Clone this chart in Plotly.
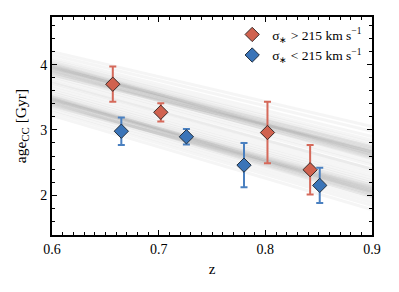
import plotly.graph_objects as go

# Data: high-dispersion sample
z_high = [0.657, 0.702, 0.802, 0.842]
age_high = [3.70, 3.27, 2.96, 2.39]
err_high = [0.27, 0.14, 0.47, 0.38]

# Data: low-dispersion sample
z_low = [0.665, 0.726, 0.780, 0.851]
age_low = [2.98, 2.895, 2.46, 2.15]
err_low = [0.21, 0.12, 0.34, 0.27]

# Model posterior lines (values at z=0.6 and z=0.9)
line_z = [0.6, 0.9]
upper_start = [3.74, 3.78, 3.82, 3.85, 3.87, 3.89, 3.90, 3.92, 3.93, 3.94, 3.95, 3.96,
               3.97, 3.98, 3.99, 4.00, 4.02, 4.04, 4.06, 4.10, 4.15, 4.20, 3.91, 3.95,
               3.88, 4.01, 3.84, 3.97]
upper_end = [2.40, 2.46, 2.50, 2.55, 2.60, 2.58, 2.62, 2.63, 2.66, 2.64, 2.68, 2.66,
             2.70, 2.67, 2.72, 2.74, 2.76, 2.80, 2.84, 2.90, 2.98, 3.05, 2.56, 2.74,
             2.66, 2.62, 2.70, 2.60]
lower_start = [3.22, 3.27, 3.31, 3.35, 3.38, 3.40, 3.41, 3.43, 3.44, 3.45, 3.46, 3.47,
               3.48, 3.49, 3.50, 3.52, 3.54, 3.57, 3.60, 3.64, 3.68, 3.72, 3.42, 3.46,
               3.39, 3.51, 3.36, 3.48]
lower_end = [1.78, 1.84, 1.89, 1.94, 1.98, 2.00, 2.02, 2.04, 2.06, 2.07, 2.09, 2.08,
             2.11, 2.10, 2.13, 2.16, 2.19, 2.22, 2.26, 2.30, 2.35, 2.40, 1.98, 2.15,
             2.06, 2.04, 2.12, 2.02]

leg_high = "σ<sub>∗</sub> > 215 km s<sup>−1</sup>"
leg_low = "σ<sub>∗</sub> < 215 km s<sup>−1</sup>"

fig = go.Figure()

for starts, ends in [(upper_start, upper_end), (lower_start, lower_end)]:
    for a, b in zip(starts, ends):
        fig.add_trace(go.Scatter(x=line_z, y=[a, b], mode="lines",
                                 line=dict(color="rgba(110,110,110,0.07)", width=3),
                                 showlegend=False, hoverinfo="skip"))

fig.add_trace(go.Scatter(
    x=z_high, y=age_high, mode="markers", name=leg_high,
    error_y=dict(type="data", array=err_high, color="#d5695a", thickness=2, width=3.5),
    marker=dict(symbol="diamond", size=11, color="#d0624f",
                line=dict(color="#3b2a28", width=1))))
fig.add_trace(go.Scatter(
    x=z_low, y=age_low, mode="markers", name=leg_low,
    error_y=dict(type="data", array=err_low, color="#4a80c0", thickness=2, width=3.5),
    marker=dict(symbol="diamond", size=11, color="#3a74b8",
                line=dict(color="#23303f", width=1))))

axis_common = dict(showline=True, linecolor="black", linewidth=2, mirror="ticks",
                   ticks="inside", ticklen=5, tickwidth=1, tickcolor="black",
                   showgrid=False, zeroline=False, automargin=False,
                   tickfont=dict(family="Liberation Serif", size=14, color="black"))

fig.update_xaxes(range=[0.6, 0.9], dtick=0.1, tickformat=".1f",
                 minor=dict(dtick=0.01, ticks="inside", ticklen=3, tickcolor="black", tickwidth=1),
                 title=dict(text="z", font=dict(family="Liberation Serif", size=15, color="black"),
                            standoff=8),
                 **axis_common)
fig.update_yaxes(range=[1.39, 4.73], dtick=1,
                 minor=dict(dtick=0.2, ticks="inside", ticklen=3, tickcolor="black", tickwidth=1),
                 title=dict(text="age<sub>CC</sub> [Gyr]",
                            font=dict(family="Liberation Serif", size=15.5, color="black"),
                            standoff=10),
                 **axis_common)

fig.update_layout(
    width=391, height=284,
    margin=dict(l=44, r=27, t=9, b=57),
    paper_bgcolor="white", plot_bgcolor="white",
    legend=dict(x=0.985, y=0.99, xanchor="right", yanchor="top",
                font=dict(family="Liberation Serif", size=13.5, color="black"),
                bgcolor="rgba(0,0,0,0)", tracegroupgap=0, itemwidth=30),
)

fig.write_html("out.html")
